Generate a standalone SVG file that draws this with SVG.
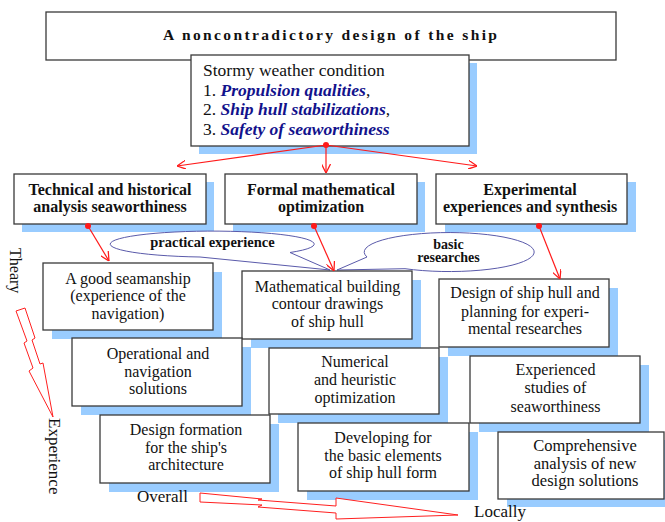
<svg xmlns="http://www.w3.org/2000/svg" width="665" height="522" viewBox="0 0 665 522" font-family="Liberation Serif, DejaVu Serif, serif">
<defs>
<style>
.bx{fill:#fff;stroke:#3a3a3a;stroke-width:1.3}
.sh{fill:#99ccff;stroke:none}
.t{font-family:'Liberation Serif','DejaVu Serif',serif;font-size:16px;fill:#111;text-anchor:middle}
.tb{font-family:'Liberation Serif','DejaVu Serif',serif;font-size:16px;font-weight:bold;fill:#111;text-anchor:middle}
.st{font-family:'Liberation Serif','DejaVu Serif',serif;font-size:17.5px;fill:#111}
.bi{font-weight:bold;font-style:italic;fill:#12128c}
.bub{fill:#fff;stroke:#5a5aaa;stroke-width:1}
.con{stroke:#ff1a1a;stroke-width:1.2;fill:none}
.big{fill:#fff;stroke:#ff2020;stroke-width:1;stroke-linejoin:miter}
</style>
<marker id="ah" viewBox="0 0 10 10" refX="10" refY="5" markerWidth="9" markerHeight="9" markerUnits="userSpaceOnUse" orient="auto">
<path d="M0,0 L10,5 L0,10" fill="none" stroke="#ff1a1a" stroke-width="1.4"/>
</marker>
</defs>
<rect width="665" height="522" fill="#fff"/>

<g id="title">
<rect class="bx" x="46" y="12" width="570" height="48"/>
<text class="tb" x="163" y="40" style="text-anchor:start;font-size:15.5px" textLength="334" lengthAdjust="spacing">A noncontradictory design of the ship</text>
</g>

<g id="stormy">
<rect class="sh" x="199" y="63" width="278" height="91"/>
<rect class="bx" x="191" y="55" width="278" height="91"/>
<text class="st" x="203" y="76">Stormy weather condition</text>
<text class="st" x="203" y="95.5">1. <tspan class="bi">Propulsion qualities</tspan>,</text>
<text class="st" x="203" y="115">2. <tspan class="bi">Ship hull stabilizations</tspan>,</text>
<text class="st" x="203" y="134.5">3. <tspan class="bi">Safety of seaworthiness</tspan></text>
</g>

<g id="technical">
<rect class="sh" x="22" y="182" width="192" height="50"/>
<rect class="bx" x="14" y="174" width="192" height="50"/>
<text class="tb" x="110" y="195">Technical and historical</text>
<text class="tb" x="110" y="212">analysis seaworthiness</text>
</g>

<g id="formal">
<rect class="sh" x="233" y="182" width="192" height="50"/>
<rect class="bx" x="225" y="174" width="192" height="50"/>
<text class="tb" x="321" y="195">Formal mathematical</text>
<text class="tb" x="321" y="212">optimization</text>
</g>

<g id="experimental">
<rect class="sh" x="445" y="182" width="191" height="50"/>
<rect class="bx" x="436" y="174" width="191" height="50"/>
<text class="tb" x="530" y="195">Experimental</text>
<text class="tb" x="530" y="212">experiences and synthesis</text>
</g>

<g id="practical">
<path class="bub" d="M290,252.5 A102 13 0 1 0 200,257 L330,270 Z"/>
<text class="tb" style="font-size:14.5px" x="212.5" y="247">practical experience</text>
</g>

<g id="basic">
<path class="bub" d="M367,257 A85 19.5 0 1 1 405,268.7 L337,270 Z"/>
<text class="tb" style="font-size:14px" x="448.5" y="248.5">basic</text>
<text class="tb" style="font-size:14px" x="448.5" y="262">researches</text>
</g>

<g id="seamanship">
<rect class="sh" x="52" y="272" width="170" height="67"/>
<rect class="bx" x="43" y="263" width="170" height="67"/>
<text class="t" x="128" y="283.5">A good seamanship</text>
<text class="t" x="128" y="301">(experience of the</text>
<text class="t" x="128" y="318.5">navigation)</text>
</g>

<g id="mathbuild">
<rect class="sh" x="251" y="280" width="170" height="68"/>
<rect class="bx" x="242" y="271" width="170" height="68"/>
<text class="t" x="327.5" y="291.7">Mathematical building</text>
<text class="t" x="327.5" y="309.3">contour drawings</text>
<text class="t" x="327.5" y="326.7">of ship hull</text>
</g>

<g id="designhull">
<rect class="sh" x="448" y="288" width="170" height="68"/>
<rect class="bx" x="439" y="279" width="170" height="68"/>
<text class="t" x="525" y="298.3">Design of ship hull and</text>
<text class="t" x="525" y="316.7">planning for experi-</text>
<text class="t" x="525" y="334.3">mental researches</text>
</g>

<g id="operational">
<rect class="sh" x="81" y="347" width="170" height="68"/>
<rect class="bx" x="72" y="338" width="170" height="68"/>
<text class="t" x="158" y="359">Operational and</text>
<text class="t" x="158" y="376.7">navigation</text>
<text class="t" x="158" y="394">solutions</text>
</g>

<g id="numerical">
<rect class="sh" x="278" y="357" width="170" height="66"/>
<rect class="bx" x="269" y="348" width="170" height="66"/>
<text class="t" x="355" y="367.3">Numerical</text>
<text class="t" x="355" y="385">and heuristic</text>
<text class="t" x="355" y="402.7">optimization</text>
</g>

<g id="experienced">
<rect class="sh" x="479" y="365" width="170" height="67"/>
<rect class="bx" x="470" y="356" width="170" height="67"/>
<text class="t" x="555.5" y="375">Experienced</text>
<text class="t" x="555.5" y="393.3">studies of</text>
<text class="t" x="555.5" y="411.7">seaworthiness</text>
</g>

<g id="formation">
<rect class="sh" x="109" y="424" width="170" height="68"/>
<rect class="bx" x="100" y="415" width="170" height="68"/>
<text class="t" x="186" y="435">Design formation</text>
<text class="t" x="186" y="452.7">for the ship's</text>
<text class="t" x="186" y="470">architecture</text>
</g>

<g id="developing">
<rect class="sh" x="307" y="432" width="171" height="68"/>
<rect class="bx" x="298" y="423" width="171" height="68"/>
<text class="t" x="383" y="442.7">Developing for</text>
<text class="t" x="383" y="460.7">the basic elements</text>
<text class="t" x="383" y="478.3">of ship hull form</text>
</g>

<g id="comprehensive">
<rect class="sh" x="507" y="440" width="166" height="67"/>
<rect class="bx" x="498" y="432" width="166" height="67"/>
<text class="t" style="font-size:16.5px" x="585" y="451">Comprehensive</text>
<text class="t" style="font-size:16.5px" x="585" y="468.5">analysis of new</text>
<text class="t" style="font-size:16.5px" x="585" y="486">design solutions</text>
</g>

<g id="axes">
<text class="t" style="text-anchor:start" transform="translate(10,248) rotate(90)">Theary</text>
<text class="t" style="text-anchor:start;font-size:17px" transform="translate(49,418) rotate(90)">Experience</text>
<text class="t" style="text-anchor:start;font-size:17px" x="137" y="501.5">Overall</text>
<text class="t" style="text-anchor:start;font-size:17px" x="474" y="517">Locally</text>
<polygon class="big" points="16,311 25,308 35,338 32,340 40,364 43,363 53,417 29,371 33,368 24,343 27,341"/>
<polygon class="big" points="200,493 262,499 258,500 336,506 336,498 458,515 336,519 336,513 258,507 262,505 200,502"/>
</g>

<g id="connectors">
<line class="con" x1="326" y1="145" x2="177" y2="166" marker-end="url(#ah)"/>
<line class="con" x1="326" y1="145" x2="326" y2="173" marker-end="url(#ah)"/>
<line class="con" x1="326" y1="145" x2="477" y2="166" marker-end="url(#ah)"/>
<circle cx="326" cy="145" r="3" fill="#ff1a1a"/>
<line class="con" x1="88" y1="226" x2="109" y2="261" marker-end="url(#ah)"/>
<circle cx="88" cy="226" r="3" fill="#ff1a1a"/>
<line class="con" x1="314" y1="226" x2="334" y2="271" marker-end="url(#ah)"/>
<circle cx="314" cy="226" r="3" fill="#ff1a1a"/>
<line class="con" x1="539" y1="226" x2="560" y2="279" marker-end="url(#ah)"/>
<circle cx="539" cy="226" r="3" fill="#ff1a1a"/>
</g>
</svg>
